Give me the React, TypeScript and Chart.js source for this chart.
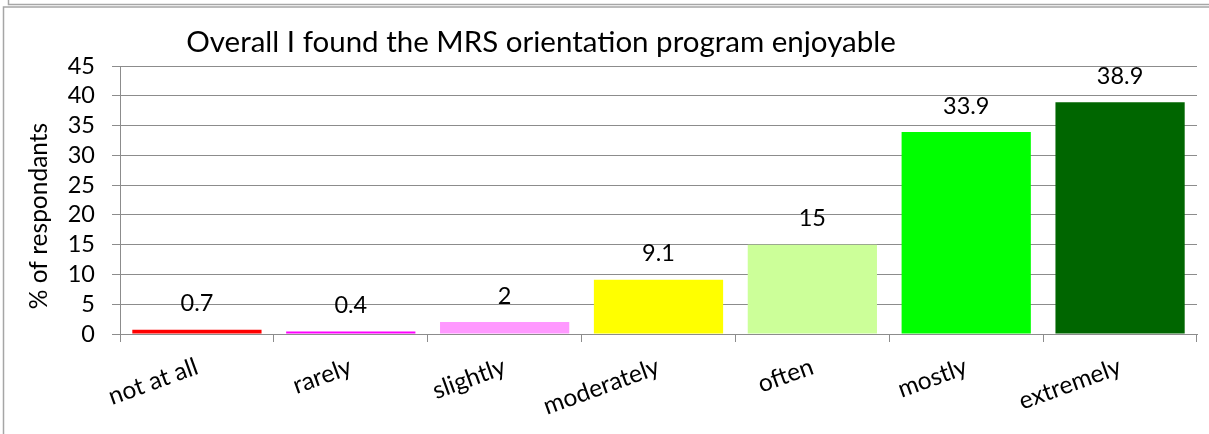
import React, { useEffect, useRef } from "react";
import { Chart, registerables } from "chart.js";
Chart.register(...registerables);

const categories = ["not at all", "rarely", "slightly", "moderately", "often", "mostly", "extremely"];
const values = [0.7, 0.4, 2, 9.1, 15, 33.9, 38.9];
const valueLabels = ["0.7", "0.4", "2", "9.1", "15", "33.9", "38.9"];
const barColors = ["#ff0000", "#ff00ff", "#ff99ff", "#ffff00", "#ccff99", "#00ff00", "#006600"];
const titleText = "Overall I found the MRS orientation program enjoyable";
const yAxisTitle = "% of respondants";
const yMin = 0;
const yMax = 45;
const yStep = 5;

const FONT = "Lato, 'Noto Sans', sans-serif";
const GRID = "#8c8c8c";
const FRAME = "#a6a6a6";

const decorPlugin = {
  id: "decor",
  beforeDraw(chart: any) {
    const ctx = chart.ctx;
    const w = chart.width;
    const h = chart.height;
    ctx.save();
    ctx.fillStyle = "#ffffff";
    ctx.fillRect(0, 0, w, h);
    ctx.strokeStyle = FRAME;
    ctx.lineWidth = 1.5;
    ctx.beginPath();
    ctx.moveTo(8.5, 0);
    ctx.lineTo(8.5, 4.5);
    ctx.lineTo(w, 4.5);
    ctx.stroke();
    ctx.beginPath();
    ctx.moveTo(3.5, h);
    ctx.lineTo(3.5, 7);
    ctx.lineTo(w, 7);
    ctx.stroke();
    ctx.restore();
  },
  afterDatasetsDraw(chart: any) {
    const ctx = chart.ctx;
    const meta = chart.getDatasetMeta(0);
    ctx.save();
    ctx.fillStyle = "#000000";
    ctx.font = `23.5px ${FONT}`;
    ctx.textAlign = "center";
    ctx.textBaseline = "middle";
    meta.data.forEach((bar: any, i: number) => {
      ctx.fillText(valueLabels[i], bar.x, bar.y - 26);
    });
    ctx.restore();
  },
  afterDraw(chart: any) {
    const ctx = chart.ctx;
    ctx.save();
    ctx.fillStyle = "#000000";
    ctx.font = `29.5px ${FONT}`;
    ctx.textAlign = "center";
    ctx.textBaseline = "alphabetic";
    ctx.fillText(titleText, 541, 52);
    ctx.translate(39, 216);
    ctx.rotate(-Math.PI / 2);
    ctx.font = `24.5px ${FONT}`;
    ctx.textBaseline = "middle";
    ctx.fillText(yAxisTitle, 0, 0);
    ctx.restore();
  },
};

export default function App() {
  const ref = useRef<HTMLCanvasElement | null>(null);
  useEffect(() => {
    if (!ref.current) return;
    const chart = new Chart(ref.current, {
      type: "bar",
      data: {
        labels: categories,
        datasets: [
          {
            data: values,
            backgroundColor: barColors,
            borderWidth: 0,
            barPercentage: 0.84,
            categoryPercentage: 1,
          },
        ],
      },
      options: {
        animation: false,
        responsive: false,
        devicePixelRatio: 1,
        layout: { padding: { top: 66, right: 12, left: 0, bottom: 0 } },
        plugins: {
          legend: { display: false },
          title: { display: false },
          tooltip: { enabled: false },
        },
        scales: {
          x: {
            grid: {
              display: true,
              drawOnChartArea: false,
              drawTicks: true,
              tickLength: 8,
              color: GRID,
              offset: true,
            },
            border: { display: true, color: GRID },
            ticks: {
              color: "#000000",
              font: { family: FONT, size: 24.5 },
              minRotation: 20,
              maxRotation: 20,
              autoSkip: false,
              padding: 10,
            },
            afterFit: (s: any) => {
              s.height = 100;
            },
          },
          y: {
            min: yMin,
            max: yMax,
            grid: { color: GRID, tickLength: 8, drawTicks: true },
            border: { display: true, color: GRID },
            ticks: {
              stepSize: yStep,
              autoSkip: false,
              color: "#000000",
              font: { family: FONT, size: 23.5 },
              padding: 17,
            },
            afterFit: (s: any) => {
              s.width = 120;
            },
          },
        },
      },
      plugins: [decorPlugin],
    });
    return () => chart.destroy();
  }, []);
  return (
    <div style={{ position: "absolute", left: 0, top: 0, width: 1209, height: 434, background: "#fff" }}>
      <canvas ref={ref} width={1209} height={434} style={{ display: "block", width: 1209, height: 434 }} />
    </div>
  );
}
